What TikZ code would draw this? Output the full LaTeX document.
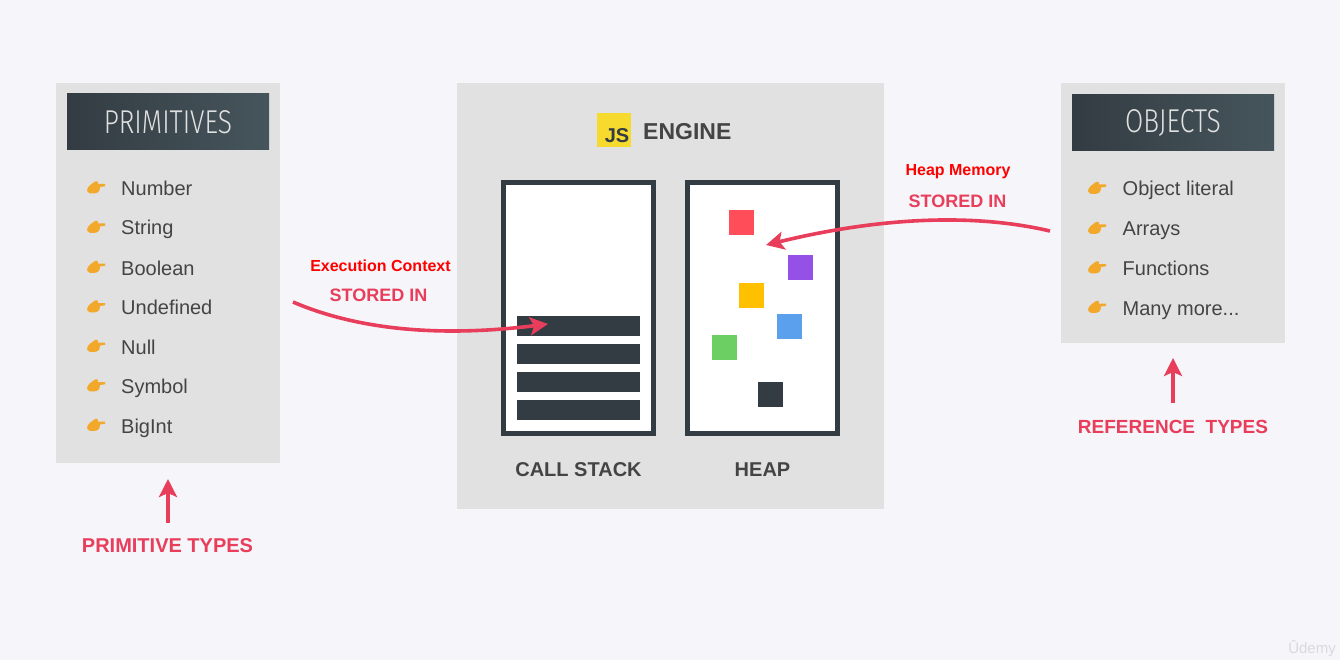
\documentclass[tikz,border=0pt]{standalone}
\usepackage{fontspec}
\setmainfont{Liberation Sans}
\newfontfamily\titlefont{Fira Sans Light}
\usetikzlibrary{arrows.meta}
\definecolor{bgc}{HTML}{F6F5F9}
\definecolor{panelc}{HTML}{E1E1E1}
\definecolor{darkc}{HTML}{333C42}
\definecolor{headr}{HTML}{46555C}
\definecolor{redc}{HTML}{E83E5C}
\definecolor{txtc}{HTML}{444444}
\definecolor{purec}{HTML}{FF0000}
\definecolor{handc}{HTML}{F2A92B}
\definecolor{jsy}{HTML}{F7DA2E}
\definecolor{sqred}{HTML}{FF4D5A}
\definecolor{sqpurple}{HTML}{9550E8}
\definecolor{sqyellow}{HTML}{FFC000}
\definecolor{sqblue}{HTML}{5BA0EC}
\definecolor{sqgreen}{HTML}{6CCF64}
\definecolor{markc}{HTML}{DADADC}
\tikzset{
  panel/.style={fill=panelc,draw=none,anchor=north west,inner sep=0pt},
  header/.style={left color=darkc,right color=headr,draw=none,inner sep=0pt,anchor=center,minimum height=56pt,minimum width=202pt,text=white!88!black},
  item/.style={anchor=base west,inner sep=0pt,font=\fontsize{20}{24}\selectfont,text=txtc},
  redlabel/.style={anchor=base,font=\fontsize{18}{22}\selectfont\bfseries,text=redc,inner sep=0pt},
  purelabel/.style={anchor=base,font=\fontsize{16}{20}\selectfont\bfseries,text=purec,inner sep=0pt},
  biglabel/.style={anchor=base,font=\fontsize{20}{24}\selectfont\bfseries,text=txtc,inner sep=0pt},
  memframe/.style={draw=darkc,fill=white,line width=5pt,inner sep=0pt},
  sqr/.style={inner sep=0pt,minimum size=25pt,draw=none},
  barnode/.style={fill=darkc,inner sep=0pt,minimum width=123pt,minimum height=20pt},
  conn/.style={draw=redc,line width=3.6pt,-{Stealth[length=18pt,width=18pt,inset=4pt]}},
}
\newcommand{\handicon}[2]{%
  \fill[handc] (#1-9,#2+3.5) .. controls (#1-9,#2-1) and (#1-5,#2-3) .. (#1-1,#2-6)
    .. controls (#1+1,#2-7) and (#1+3,#2-6) .. (#1+2,#2-3.5)
    -- (#1+9,#2-3.5) -- (#1+9,#2-1.2) -- (#1+4,#2-0.5)
    .. controls (#1+4,#2+4) and (#1+2,#2+6) .. (#1-3,#2+6)
    .. controls (#1-6,#2+6) and (#1-8,#2+6) .. (#1-9,#2+3.5) -- cycle;}
\begin{document}
\begin{tikzpicture}[x=1pt,y=-1pt]
\useasboundingbox (0,0) rectangle (1340,660);
\fill[bgc] (0,0) rectangle (1340,660);
% panels
\node[panel,minimum width=224pt,minimum height=380pt] (leftpanel) at (56,83) {};
\node[panel,minimum width=427pt,minimum height=426pt] (midpanel) at (457,83) {};
\node[panel,minimum width=224pt,minimum height=260pt] (rightpanel) at (1061,83) {};
% headers
\node[header] (primhead) at (168,122) {\titlefont\scalebox{0.8}[1]{\fontsize{33}{36}\selectfont PRIMITIVES}};
\node[header] (objhead) at (1173,122.5) {\titlefont\scalebox{0.8}[1]{\fontsize{33}{36}\selectfont OBJECTS}};
% primitive items
\foreach \n/\t/\y in {a/Number/195.5,b/String/235,c/Boolean/275,d/Undefined/314.5,e/Null/354,f/Symbol/393.5,g/BigInt/433}{
  \node[item] (prim\n) at (121,\y) {\t};
  \handicon{96}{\y-8}
}
\foreach \n/\t/\y in {a/{Object literal}/196,b/Arrays/236,c/Functions/275.5,d/{Many more...}/315}{
  \node[item] (obj\n) at (1122.5,\y) {\t};
  \handicon{1097}{\y-8}
}
% engine title
\node[fill=jsy,inner sep=0pt,minimum size=34pt] (jslogo) at (614,130) {};
\node[inner sep=0pt,font=\fontsize{20}{22}\selectfont\bfseries,text=darkc] (jstext) at (617,136) {JS};
\node[biglabel,anchor=base west,font=\fontsize{23}{26}\selectfont\bfseries] (engine) at (643,140) {ENGINE};
% frames
\node[memframe,minimum width=150pt,minimum height=251pt] (stack) at (578.5,308) {};
\node[memframe,minimum width=150pt,minimum height=251pt] (heap) at (762.5,308) {};
\node[barnode] (bara) at (578.5,326) {};
\node[barnode] (barb) at (578.5,354) {};
\node[barnode] (barc) at (578.5,382) {};
\node[barnode] (bard) at (578.5,409.5) {};
\node[sqr,fill=sqred] (sqa) at (741.5,222.5) {};
\node[sqr,fill=sqpurple] (sqb) at (800.5,267.5) {};
\node[sqr,fill=sqyellow] (sqc) at (751.5,295.5) {};
\node[sqr,fill=sqblue] (sqd) at (789.5,326.5) {};
\node[sqr,fill=sqgreen] (sqe) at (724.5,347.5) {};
\node[sqr,fill=darkc] (sqf) at (770.5,394.5) {};
\node[biglabel] (stacklabel) at (578.5,476.5) {CALL STACK};
\node[biglabel] (heaplabel) at (762.5,476.5) {HEAP};
% labels
\node[purelabel] (execlabel) at (380.5,271.5) {Execution Context};
\node[redlabel] (storeda) at (378.5,301.5) {STORED IN};
\node[purelabel] (heapmem) at (958,175.5) {Heap Memory};
\node[redlabel] (storedb) at (957.5,207.5) {STORED IN};
\node[redlabel,font=\fontsize{20}{24}\selectfont\bfseries] (primtypes) at (167.5,552) {PRIMITIVE TYPES};
\node[redlabel,font=\fontsize{19}{24}\selectfont\bfseries] (reftypes) at (1173,433) {REFERENCE\ \ TYPES};
% connectors
\coordinate (a1) at (293,302);
\coordinate (a2) at (548,324);
\coordinate (b1) at (1050,231);
\coordinate (b2) at (766,245);
\coordinate (c1) at (168,523);
\coordinate (c2) at (168,479);
\coordinate (d1) at (1173,403);
\coordinate (d2) at (1173,358);
\draw[conn] (a1) .. controls (370,335) and (460,335) .. (a2);
\draw[conn] (b1) .. controls (960,210) and (860,222) .. (b2);
\draw[conn] (c1) -- (c2);
\draw[conn] (d1) -- (d2);
\node[inner sep=0pt,font=\fontsize{15}{18}\selectfont,text=markc] (mark) at (1312,648) {Ûdemy};
\end{tikzpicture}
\end{document}
